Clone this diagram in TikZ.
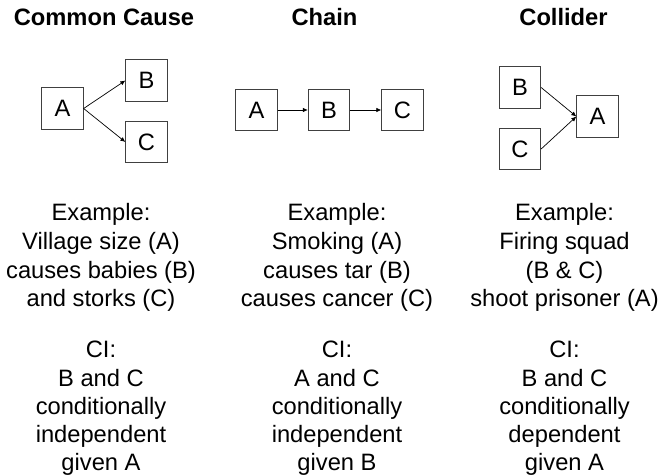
\documentclass[tikz,border=0pt]{standalone}
\usepackage{fontspec}
\setmainfont{Liberation Sans}
\usetikzlibrary{arrows.meta}

\newcommand{\bodysize}{\fontsize{23.7pt}{28.5pt}\selectfont}

\tikzset{
  varbox/.style = {draw=black!75, line width=0.8pt, minimum size=41.5pt, inner sep=0pt},
  causal/.style = {black, line width=0.7pt, -{Latex[length=5pt,width=4.5pt]}},
  txt/.style = {black, anchor=base, inner sep=0pt},
  ttl/.style = {txt, font=\bodysize\bfseries}
}

\begin{document}
\begin{tikzpicture}[x=1pt, y=-1pt, font=\bodysize]
\useasboundingbox (0,0) rectangle (662,475);
% titles
\node[ttl] (tcommon) at (104, 25){Common Cause};
\node[ttl] (tchain) at (324.5, 25){Chain};
\node[ttl] (tcollider) at (563.5, 25){Collider};
% common cause
\node[varbox] (ccA) at (62.5, 108.5){A};
\node[varbox] (ccB) at (146.5, 80.5){B};
\node[varbox] (ccC) at (146.5, 142){C};
\draw[causal] (ccA.east) -- (ccB.west);
\draw[causal] (ccA.east) -- (ccC.west);
% chain
\node[varbox] (chA) at (256.5, 110){A};
\node[varbox] (chB) at (329, 110){B};
\node[varbox] (chC) at (402.5, 110){C};
\draw[causal] (chA.east) -- (chB.west);
\draw[causal] (chB.east) -- (chC.west);
% collider
\node[varbox] (coB) at (520, 87.5){B};
\node[varbox] (coC) at (520, 149){C};
\node[varbox] (coA) at (597.5, 116.5){A};
\draw[causal] (coB.east) -- (coA.west);
\draw[causal] (coC.east) -- (coA.west);
% examples
\node[txt] (ex1a) at (101, 220){Example:};
\node[txt] (ex1b) at (101, 249){Village size (A)};
\node[txt] (ex1c) at (101, 278){causes babies (B)};
\node[txt] (ex1d) at (101, 306){and storks (C)};
\node[txt] (ex2a) at (337, 220){Example:};
\node[txt] (ex2b) at (337, 249){Smoking (A)};
\node[txt] (ex2c) at (337, 278){causes tar (B)};
\node[txt] (ex2d) at (337, 306){causes cancer (C)};
\node[txt] (ex3a) at (564.5, 220){Example:};
\node[txt] (ex3b) at (564.5, 249){Firing squad};
\node[txt] (ex3c) at (564.5, 278){(B \& C)};
\node[txt] (ex3d) at (564.5, 306){shoot prisoner (A)};
% conditional independence
\node[txt] (ci1a) at (101, 357){CI:};
\node[txt] (ci1b) at (101, 386){B and C};
\node[txt] (ci1c) at (101, 414){conditionally};
\node[txt] (ci1d) at (101, 442){independent};
\node[txt] (ci1e) at (101, 470){given A};
\node[txt] (ci2a) at (337, 357){CI:};
\node[txt] (ci2b) at (337, 386){A and C};
\node[txt] (ci2c) at (337, 414){conditionally};
\node[txt] (ci2d) at (337, 442){independent};
\node[txt] (ci2e) at (337, 470){given B};
\node[txt] (ci3a) at (564.5, 357){CI:};
\node[txt] (ci3b) at (564.5, 386){B and C};
\node[txt] (ci3c) at (564.5, 414){conditionally};
\node[txt] (ci3d) at (564.5, 442){dependent};
\node[txt] (ci3e) at (564.5, 470){given A};
\end{tikzpicture}
\end{document}
